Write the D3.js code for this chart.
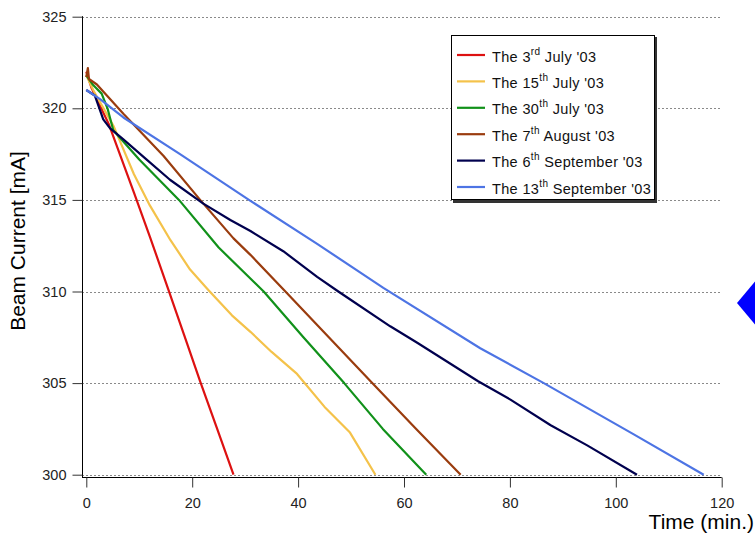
<!DOCTYPE html>
<html>
<head>
<meta charset="utf-8">
<script src="https://cdn.jsdelivr.net/npm/d3@7"></script>
<style>
  body { margin: 0; background: #fff; }
  svg { display: block; font-family: "Liberation Sans", Arial, sans-serif; }
</style>
</head>
<body>
<div id="chart"></div>
<script>
// beam current decay, time in minutes vs current in mA
const july3 = [[0, 322], [1, 321.1], [4.3, 319.1], [9, 315.4], [12, 313.0], [15.5, 310.1], [18.5, 307.6], [21.5, 305.1], [24.6, 302.6], [27.8, 300]];
const july15 = [[0, 321.8], [1.3, 321], [5.2, 319], [9, 316.4], [12, 314.7], [15.9, 312.8], [19.6, 311.2], [23, 310.1], [27.5, 308.7], [31, 307.8], [35, 306.7], [39.8, 305.5], [45, 303.7], [49.8, 302.3], [54.6, 300]];
const july30 = [[0, 321.8], [1.2, 321.3], [2.9, 320.8], [4, 320], [5.1, 318.8], [10, 317.2], [17.5, 315], [25, 312.4], [33.5, 310], [41, 307.5], [48.7, 305], [56, 302.5], [64.2, 300]];
const aug7 = [[0, 321.7], [0.3, 322.2], [0.5, 321.6], [2, 321.3], [7, 319.7], [14.6, 317.4], [21.5, 315], [27.8, 312.9], [31, 312], [37.6, 310], [45.8, 307.5], [54, 305], [62.3, 302.5], [70.7, 300]];
const sep6 = [[0, 321], [1.6, 320.7], [3.2, 319.4], [4.5, 318.9], [7, 318.3], [11.4, 317.2], [15.8, 316.1], [22.1, 314.8], [27.2, 313.9], [31, 313.3], [37.2, 312.2], [43.6, 310.8], [47.6, 310], [57.4, 308.1], [62.5, 307.2], [74, 305.1], [80.1, 304.1], [87.7, 302.7], [94.6, 301.6], [104, 300]];
const sep13 = [[0, 321], [2.6, 320.5], [7, 319.5], [17.7, 317.5], [31, 314.95], [43.6, 312.6], [56.1, 310.2], [74.4, 306.9], [86.4, 305], [103.4, 302.2], [116.6, 300]];

const seriesNames = [["The 3", "rd", " July '03"], ["The 15", "th", " July '03"], ["The 30", "th", " July '03"],
  ["The 7", "th", " August '03"], ["The 6", "th", " September '03"], ["The 13", "th", " September '03"]];
const seriesData = [july3, july15, july30, aug7, sep6, sep13];
const seriesColors = ["#dd1111", "#f4c24a", "#11911a", "#9a3c0e", "#00004e", "#4d74e4"];

const xTicks = [0, 20, 40, 60, 80, 100, 120];
const yTicks = [300, 305, 310, 315, 320, 325];

const width = 755, height = 533;

const x = d3.scaleLinear().domain([0, 120]).range([86.3, 721.7]);
const y = d3.scaleLinear().domain([300, 325]).range([474.7, 16.7]);

const svg = d3.select("#chart").append("svg")
  .attr("width", width)
  .attr("height", height);

// dotted grid
svg.append("g")
  .selectAll("line")
  .data(yTicks)
  .enter().append("line")
  .attr("x1", 82).attr("x2", 720)
  .attr("y1", d => Math.round(y(d)) + 0.5)
  .attr("y2", d => Math.round(y(d)) + 0.5)
  .attr("stroke", "#8a8a8a")
  .attr("stroke-dasharray", "2,2");

// axes
const yAxis = svg.append("g")
  .attr("transform", "translate(82.5,0)")
  .call(d3.axisLeft(y).tickValues(yTicks).tickSize(10).tickPadding(6).tickFormat(d3.format("d")));
yAxis.select(".domain").attr("d", "M0," + (y(325) - 0.5) + "V" + 477);

const xAxis = svg.append("g")
  .attr("transform", "translate(0,477.5)")
  .call(d3.axisBottom(x).tickValues(xTicks).tickSize(10).tickPadding(10));
xAxis.select(".domain").attr("d", "M82,0H" + x(120));

svg.selectAll(".tick text")
  .attr("font-size", 14.5)
  .attr("font-family", "Liberation Sans, Arial, sans-serif")
  .attr("fill", "#222");
svg.selectAll(".tick line").attr("stroke", "#333");

svg.append("text")
  .attr("transform", "translate(25,241) rotate(-90)")
  .attr("text-anchor", "middle")
  .attr("font-size", 21)
  .text("Beam Current [mA]");

svg.append("text")
  .attr("x", 754)
  .attr("y", 529)
  .attr("text-anchor", "end")
  .attr("font-size", 21)
  .text("Time (min.)");

// lines
const line = d3.line()
  .x(d => x(d[0]))
  .y(d => y(d[1]));

svg.append("g")
  .selectAll("path")
  .data(seriesData)
  .enter().append("path")
  .attr("d", line)
  .attr("fill", "none")
  .attr("stroke", (d, i) => seriesColors[i])
  .attr("stroke-width", 2.2)
  .attr("stroke-linejoin", "round");

// legend
const legend = svg.append("g").attr("transform", "translate(451,35)");
legend.append("rect")
  .attr("x", 2).attr("y", 2)
  .attr("width", 204).attr("height", 166)
  .attr("fill", "#333");
legend.append("rect")
  .attr("x", 0.5).attr("y", 0.5)
  .attr("width", 203).attr("height", 164)
  .attr("fill", "#fff")
  .attr("stroke", "#000");

const rows = legend.selectAll(".row")
  .data(seriesNames)
  .enter().append("g")
  .attr("class", "row")
  .attr("transform", (d, i) => "translate(0," + (20 + i * 26.4) + ")");
rows.append("line")
  .attr("x1", 6).attr("x2", 34)
  .attr("stroke", (d, i) => seriesColors[i])
  .attr("stroke-width", 2.2);
const label = rows.append("text")
  .attr("x", 41)
  .attr("y", 6.5)
  .attr("font-size", 14.5)
  .attr("letter-spacing", 0.35)
  .attr("fill", "#111");
label.append("tspan").text(d => d[0]);
label.append("tspan").attr("dy", -7).attr("font-size", 10).text(d => d[1]);
label.append("tspan").attr("dy", 7).text(d => d[2]);

// blue marker at right edge
svg.append("path")
  .attr("d", "M737,303 L763,272 L789,303 L763,334 Z")
  .attr("fill", "#0000ff");
</script>
</body>
</html>
